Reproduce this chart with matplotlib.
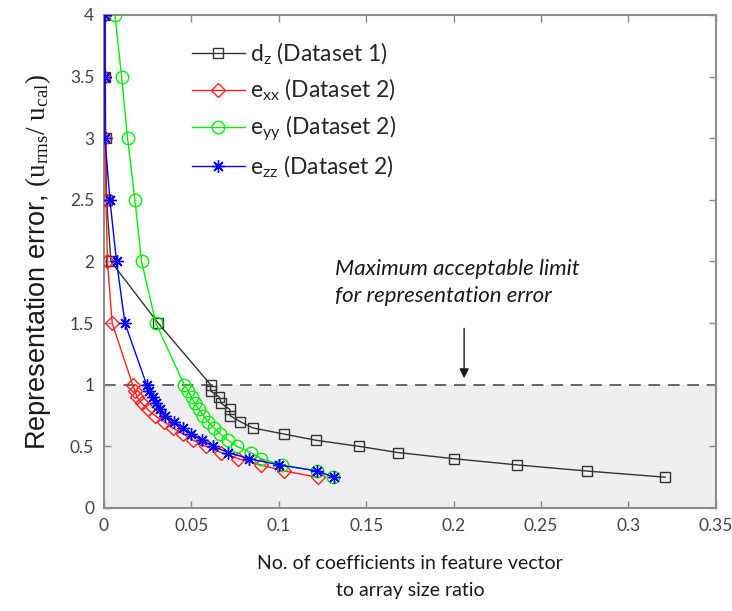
import matplotlib
matplotlib.use("Agg")
import matplotlib.pyplot as plt
import numpy as np

# ---- data ----
err_levels = [4, 3.5, 3, 2.5, 2, 1.5, 1.0, 0.95, 0.9, 0.85, 0.8, 0.75, 0.7,
              0.65, 0.6, 0.55, 0.5, 0.45, 0.4, 0.35, 0.3, 0.25]

dz_x = [0.0008, 0.0008, 0.001, 0.0015, 0.004, 0.031, 0.061, 0.061, 0.066, 0.067,
        0.072, 0.072, 0.078, 0.085, 0.103, 0.121, 0.146, 0.168, 0.200, 0.236,
        0.276, 0.321]
exx_x = [0.0003, 0.0003, 0.0005, 0.0012, 0.002, 0.0047, 0.0164, 0.0177, 0.019,
         0.0216, 0.025, 0.0292, 0.0345, 0.0393, 0.0453, 0.051, 0.0583, 0.0669,
         0.0768, 0.0896, 0.1031, 0.1222]
eyy_x = [0.0063, 0.0101, 0.0135, 0.0177, 0.0215, 0.0297, 0.0459, 0.0482, 0.0501,
         0.052, 0.0543, 0.0568, 0.0597, 0.0630, 0.0665, 0.0710, 0.0760, 0.0840,
         0.0900, 0.1016, 0.1220, 0.1311]
ezz_x = [0.0005, 0.0005, 0.0006, 0.0034, 0.0072, 0.012, 0.0244, 0.026, 0.028,
         0.030, 0.032, 0.035, 0.040, 0.045, 0.050, 0.056, 0.0625, 0.071, 0.083,
         0.100, 0.122, 0.1315]

series_labels = [r"$\mathregular{d_z}$ (Dataset 1)",
                 r"$\mathregular{e_{xx}}$ (Dataset 2)",
                 r"$\mathregular{e_{yy}}$ (Dataset 2)",
                 r"$\mathregular{e_{zz}}$ (Dataset 2)"]

x_ticks = [0, 0.05, 0.1, 0.15, 0.2, 0.25, 0.3, 0.35]
x_tick_labels = ["0", "0.05", "0.1", "0.15", "0.2", "0.25", "0.3", "0.35"]
y_ticks = [0, 0.5, 1, 1.5, 2, 2.5, 3, 3.5, 4]
y_tick_labels = ["0", "0.5", "1", "1.5", "2", "2.5", "3", "3.5", "4"]

limit_value = 1.0

# ---- style ----
plt.rcParams['font.family'] = ['Lato', 'DejaVu Sans']
plt.rcParams['mathtext.fontset'] = 'custom'
plt.rcParams['mathtext.rm'] = 'Liberation Serif'
plt.rcParams['mathtext.it'] = 'Liberation Serif:italic'

fig = plt.figure(figsize=(7.32, 6.11), dpi=100)
ax = fig.add_axes([0.142, 0.1686, 0.836, 0.8069])

ax.set_xlim(0, 0.35)
ax.set_ylim(0, 4)

# shaded acceptable region
ax.axhspan(0, limit_value, color='#efeef0', zorder=0)
ax.axhline(limit_value, color='#666666', lw=1.4, ls=(0, (6, 4)), zorder=1)

ax.plot(dz_x, err_levels, color='#333333', lw=1.0, marker='s', ms=7.5,
        mfc='none', mec='#333333', mew=1.0, label=series_labels[0], zorder=3)
ax.plot(exx_x, err_levels, color='#ff2020', lw=1.0, marker='D', ms=7.5,
        mfc='none', mec='#ff2020', mew=1.0, label=series_labels[1], zorder=3)
ax.plot(eyy_x, err_levels, color='#00ee00', lw=1.0, marker='o', ms=9,
        mfc='none', mec='#00ee00', mew=1.0, label=series_labels[2], zorder=3)
ax.plot(ezz_x, err_levels, color='#0000ff', lw=1.0, marker=(8, 2, 0), ms=9,
        mfc='none', mec='#0000ff', mew=1.0, label=series_labels[3], zorder=4)

ax.set_xticks(x_ticks)
ax.set_xticklabels(x_tick_labels)
ax.set_yticks(y_ticks)
ax.set_yticklabels(y_tick_labels)
ax.tick_params(direction='in', top=True, right=True, length=5, width=1,
               color='#888888', labelcolor='#444444', labelsize=12.5, pad=7)
for s in ax.spines.values():
    s.set_color('#8c8c8c')
    s.set_linewidth(1.5)

ax.set_xlabel("No. of coefficients in feature vector\nto array size ratio",
              fontsize=14, color='#1a1a1a', labelpad=15, linespacing=1.75)
ax.set_ylabel(r"Representation error, $(\mathrm{u_{rms}/\ u_{cal}})$",
              fontsize=19.5, color='#1a1a1a', family=['Liberation Sans'], labelpad=12)

leg = ax.legend(loc='upper left', bbox_to_anchor=(0.11, 0.99), frameon=False,
                fontsize=16.5, handlelength=2.3, labelspacing=0.45,
                handletextpad=0.25)
for t in leg.get_texts():
    t.set_color('#262626')

ax.text(0.132, 1.83, "Maximum acceptable limit\nfor representation error",
        fontsize=16, style='italic', color='#1a1a1a', va='center', ha='left',
        linespacing=1.45)
ax.annotate("", xy=(0.206, 1.03), xytext=(0.206, 1.48),
            arrowprops=dict(arrowstyle='-|>', color='#1a1a1a', lw=1.0,
                            mutation_scale=14))

fig.savefig("out.png", dpi=100)
